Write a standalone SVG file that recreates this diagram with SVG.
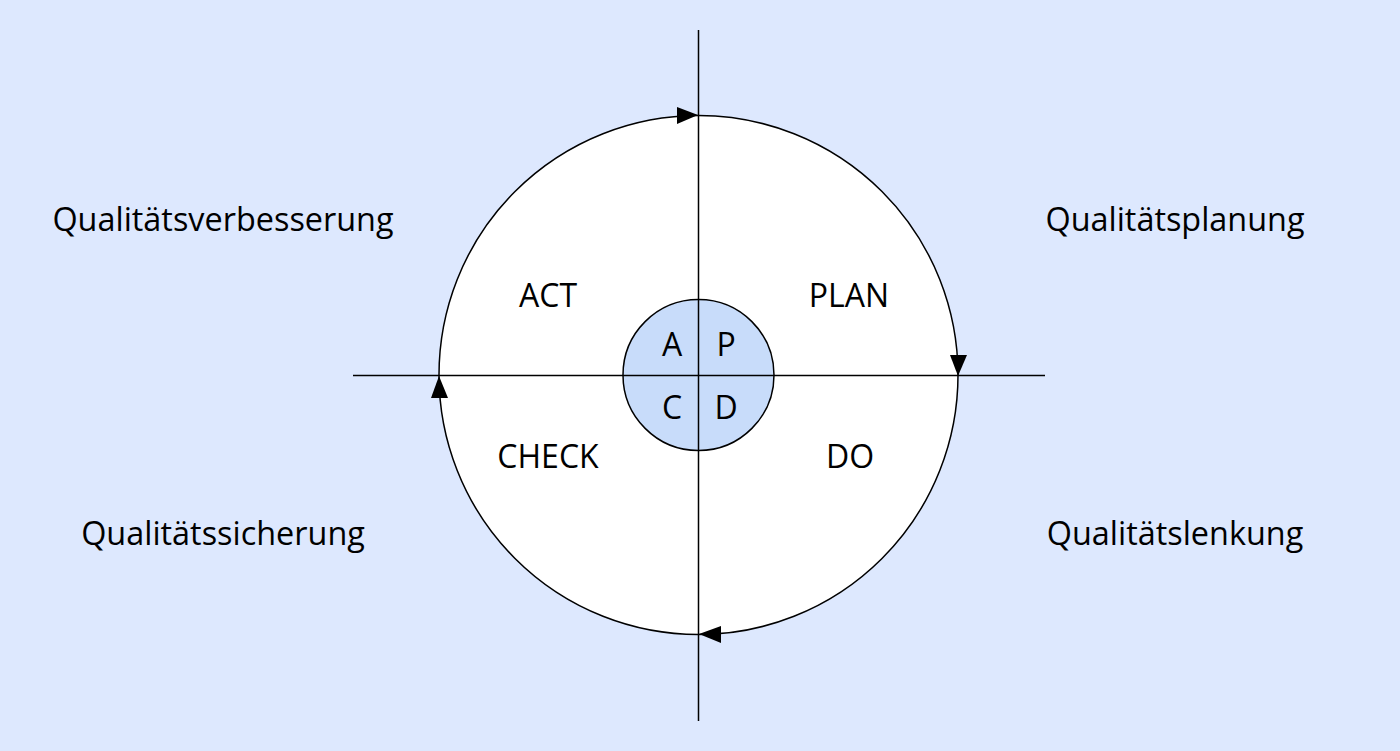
<svg xmlns="http://www.w3.org/2000/svg" width="1400" height="751" viewBox="0 0 1400 751">
<style>
text{font-family:"Open Sans","Liberation Sans",sans-serif;fill:#000;text-anchor:middle}
.big{font-size:32.4px}
.mid{font-size:32px}
.small{font-size:32px}
.ln{stroke:#000;stroke-width:1.5;fill:none}
</style>
<rect width="1400" height="751" fill="#dde8fe"/>
<g id="outer-circle"><circle cx="698.5" cy="375" r="259.5" fill="#fff" stroke="#000" stroke-width="1.5"/></g>
<g id="inner-circle"><circle cx="698.5" cy="375" r="75.5" fill="#c8dcfa" stroke="#000" stroke-width="1.5"/></g>
<g id="connectors">
<line class="ln" x1="698.5" y1="30" x2="698.5" y2="721"/>
<line class="ln" x1="353" y1="375.5" x2="1045" y2="375.5"/>
<polygon points="698,115 677,107 677,124" fill="#000"/>
<polygon points="958,376 950,355 967,355" fill="#000"/>
<polygon points="439,376 431,398 448,398" fill="#000"/>
<polygon points="699,634 721,626 721,643" fill="#000"/>
</g>
<g id="qualitaetsverbesserung"><text class="big" x="223" y="231">Qualitätsverbesserung</text></g>
<g id="qualitaetsplanung"><text class="big" x="1175" y="231">Qualitätsplanung</text></g>
<g id="qualitaetssicherung"><text class="big" x="223" y="545">Qualitätssicherung</text></g>
<g id="qualitaetslenkung"><text class="big" x="1175" y="545">Qualitätslenkung</text></g>
<g id="act"><text class="mid" x="548" y="307">ACT</text></g>
<g id="plan"><text class="mid" x="849" y="307">PLAN</text></g>
<g id="check"><text class="mid" x="548" y="468">CHECK</text></g>
<g id="do"><text class="mid" x="850" y="468">DO</text></g>
<g id="a"><text class="small" x="672" y="356">A</text></g>
<g id="p"><text class="small" x="726" y="356">P</text></g>
<g id="c"><text class="small" x="672" y="419">C</text></g>
<g id="d"><text class="small" x="726" y="419">D</text></g>
</svg>
